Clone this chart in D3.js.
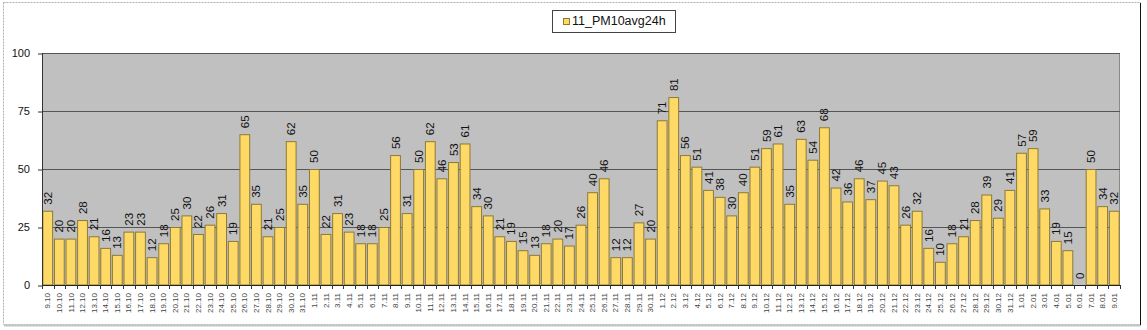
<!DOCTYPE html>
<html><head><meta charset="utf-8">
<script src="https://cdn.jsdelivr.net/npm/d3@7"></script>
<style>body{margin:0;background:#fff}svg{display:block}text{font-family:Arial,"Liberation Sans",sans-serif}</style>
</head><body><svg id="c" width="1147" height="330"></svg>
<script>
const categories = [
"9.10","10.10","11.10","12.10","13.10","14.10","15.10","16.10","17.10","18.10","19.10","20.10","21.10","22.10","23.10","24.10","25.10","26.10","27.10","28.10","29.10","30.10","31.10",
"1.11","2.11","3.11","4.11","5.11","6.11","7.11","8.11","9.11","10.11","11.11","12.11","13.11","14.11","15.11","16.11","17.11","18.11","19.11","20.11","21.11","22.11","23.11","24.11","25.11","26.11","27.11","28.11","29.11","30.11",
"1.12","2.12","3.12","4.12","5.12","6.12","7.12","8.12","9.12","10.12","11.12","12.12","13.12","14.12","15.12","16.12","17.12","18.12","19.12","20.12","21.12","22.12","23.12","24.12","25.12","26.12","27.12","28.12","29.12","30.12","31.12",
"1.01","2.01","3.01","4.01","5.01","6.01","7.01","8.01","9.01"];
const values = [
32,20,20,28,21,16,13,23,23,12,18,25,30,22,26,31,19,65,35,21,25,62,35,
50,22,31,23,18,18,25,56,31,50,62,46,53,61,34,30,21,19,15,13,18,20,17,26,40,46,12,12,27,20,
71,81,56,51,41,38,30,40,51,59,61,35,63,54,68,42,36,46,37,45,43,26,32,16,10,18,21,28,39,29,41,
57,59,33,19,15,0,50,34,32];
const yTicks = [0,25,50,75,100];
const seriesName = "11_PM10avg24h";

const svg = d3.select("#c");
const L = 42, R = 1120, T = 53, B = 285;
const x = d3.scaleBand().domain(categories).range([L, R]).paddingInner(0.07).paddingOuter(0.03);
const y = d3.scaleLinear().domain([0, 100]).range([B, T]);

// outer frame
svg.append("rect").attr("x",3.5).attr("y",2.5).attr("width",1137).attr("height",322)
  .attr("fill","none").attr("stroke","#b0b0b0").attr("stroke-dasharray","2,1");
svg.append("line").attr("x1",4).attr("x2",1141).attr("y1",325.5).attr("y2",325.5).attr("stroke","#c4c4c4").attr("stroke-width",2);
svg.append("line").attr("x1",1140.5).attr("x2",1140.5).attr("y1",3).attr("y2",325).attr("stroke","#111").attr("stroke-width",1);

// plot bg
svg.append("rect").attr("x",L).attr("y",T).attr("width",R-L).attr("height",B-T).attr("fill","#c0c0c0");
svg.append("line").attr("x1",R-0.5).attr("x2",R-0.5).attr("y1",T).attr("y2",B).attr("stroke","#8a8a8a");

// gridlines
svg.append("g").selectAll("line").data(yTicks.filter(d=>d>0)).join("line")
  .attr("x1",L).attr("x2",R).attr("y1",d=>Math.round(y(d))+0.5).attr("y2",d=>Math.round(y(d))+0.5)
  .attr("stroke","#555").attr("stroke-width",1);

// bars
svg.append("g").selectAll("rect").data(values).join("rect")
  .attr("x",(d,i)=>x(categories[i])+0.5).attr("y",d=>y(d)+0.5)
  .attr("width",x.bandwidth()-1).attr("height",d=>Math.max(0,B-y(d)-0.5))
  .attr("fill","#ffd966").attr("stroke","#8c7a35").attr("stroke-width",1);

// value labels
svg.append("g").selectAll("text").data(values).join("text")
  .attr("transform",(d,i)=>`translate(${x(categories[i])+x.bandwidth()/2+1},${y(d)-6}) rotate(-90)`)
  .attr("text-anchor","start").attr("dominant-baseline","middle")
  .attr("font-size",11.5).attr("fill","#111").text(d=>d);

// y axis
const ya = svg.append("g").attr("transform",`translate(${L},0)`)
  .call(d3.axisLeft(y).tickValues(yTicks).tickSize(4).tickPadding(8).tickFormat(d3.format("d")));
ya.select(".domain").remove();
ya.selectAll("line").attr("stroke","#333").attr("transform","translate(0,0.5)");
ya.selectAll("text").attr("font-size",11).attr("fill","#111");
svg.append("line").attr("x1",L+0.5).attr("x2",L+0.5).attr("y1",T).attr("y2",B+1).attr("stroke","#333");

// x axis
svg.append("line").attr("x1",L).attr("x2",R).attr("y1",B+0.5).attr("y2",B+0.5).attr("stroke","#222");
const step = x.step();
const bounds = categories.map(c=>x(c)-step*x.paddingInner()/2).concat([R]);
svg.append("g").selectAll("line").data(bounds).join("line")
  .attr("x1",d=>Math.round(d)+0.5).attr("x2",d=>Math.round(d)+0.5).attr("y1",B).attr("y2",B+4).attr("stroke","#333");
svg.append("g").selectAll("text").data(categories).join("text")
  .attr("transform",c=>`translate(${x(c)+x.bandwidth()/2+0.5},${B+8}) rotate(-90)`)
  .attr("text-anchor","end").attr("dominant-baseline","middle")
  .attr("font-size",8).attr("fill","#444").text(c=>c);

// legend
svg.append("rect").attr("x",552.5).attr("y",10.5).attr("width",123).attr("height",22).attr("fill","#fff").attr("stroke","#444");
svg.append("rect").attr("x",563.5).attr("y",18.5).attr("width",6).attr("height",6).attr("fill","#ffd966").attr("stroke","#8c7a35");
svg.append("text").attr("x",572).attr("y",22).attr("dominant-baseline","middle").attr("font-size",12.5).attr("fill","#111").text(seriesName);
</script></body></html>
